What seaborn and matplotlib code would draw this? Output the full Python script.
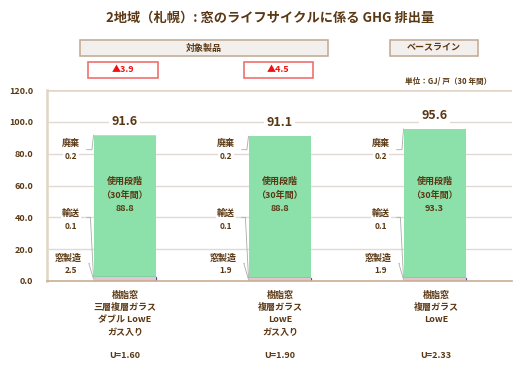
import matplotlib
matplotlib.use("Agg")
import matplotlib.pyplot as plt
import seaborn as sns
import pandas as pd
import numpy as np
from matplotlib.patches import Rectangle

sns.set_theme(style="white")
plt.rcParams['font.family'] = ['Noto Sans CJK JP', 'DejaVu Sans']

# ---- data ----
categories = ["樹脂窓\n三層複層ガラス\nダブル LowE\nガス入り",
              "樹脂窓\n複層ガラス\nLowE\nガス入り",
              "樹脂窓\n複層ガラス\nLowE"]
u_values = ["U=1.60", "U=1.90", "U=2.33"]
manufacture = [2.5, 1.9, 1.9]     # 窓製造
transport = [0.1, 0.1, 0.1]       # 輸送
use_phase = [88.8, 88.8, 93.3]    # 使用段階
disposal = [0.2, 0.2, 0.2]        # 廃棄
totals = ["91.6", "91.1", "95.6"]
reductions = ["▲3.9", "▲4.5"]
yticks = [0, 20, 40, 60, 80, 100, 120]

BROWN = "#5a3814"
W, H = 525, 370
FW = "bold"

fig = plt.figure(figsize=(W / 100, H / 100), dpi=100)

def fx(x):
    return x / W

def fy(y):
    return 1 - y / H

ax = fig.add_axes([fx(47), fy(281), (512 - 47) / W, (281 - 90) / H])

m = np.array(manufacture)
t = np.array(transport)
u = np.array(use_phase)
d = np.array(disposal)
layers = [
    (m + t + u + d, "#a8e8c0", 0),
    (m + t + u, "#8ce0aa", 0),
    (m + t, "#55509c", 0.9),
    (m, "#e2c6cc", 0),
]
for vals, col, lw in layers:
    df = pd.DataFrame({"cat": categories, "val": vals})
    sns.barplot(data=df, x="cat", y="val", color=col, width=0.4,
                saturation=1, ax=ax, zorder=3, linewidth=lw, edgecolor=col)

ax.set_ylim(0, 120)
ax.set_xlim(-0.5, 2.5)
ax.set_yticks(yticks)
ax.set_yticklabels([f"{v:.1f}" for v in yticks], fontsize=6.5, color=BROWN, fontweight=FW)
ax.set_xticks(range(3))
ax.set_xticklabels([])
ax.set_xlabel("")
ax.set_ylabel("")
ax.tick_params(axis="both", length=0, pad=10)
for v in yticks[1:-1]:
    ax.axhline(v, color="#e2dad2", lw=1, zorder=1)
ax.axhline(120, color="#e2d4c4", lw=1.8, zorder=1)
for s in ["top", "right"]:
    ax.spines[s].set_visible(False)
ax.spines["left"].set_color("#e2d4c4")
ax.spines["left"].set_linewidth(1.8)
ax.spines["bottom"].set_color("#c8ae94")
ax.spines["bottom"].set_linewidth(1.2)
ax.spines["bottom"].set_zorder(6)

bbox_w = dict(facecolor="white", edgecolor="none", pad=1.0)
for i in range(3):
    top = m[i] + t[i] + u[i] + d[i]
    left = i - 0.2
    # total
    ax.text(i, top + 8.5, totals[i], ha="center", va="center", fontsize=9,
            color=BROWN, fontweight=FW,
            bbox=dict(facecolor="white", edgecolor="none", pad=2), zorder=5)
    # inside label
    ax.text(i, 54, f"使用段階\n（30年間）\n{use_phase[i]:.1f}", ha="center", va="center",
            fontsize=6.5, color=BROWN, linespacing=1.6, zorder=5, fontweight=FW)
    lx = i - 0.345
    # disposal
    ax.text(lx, 86.5, "廃棄", ha="center", va="center", fontsize=6.5, color=BROWN, zorder=5, bbox=bbox_w, fontweight=FW)
    ax.text(lx, 78.5, f"{disposal[i]:.1f}", ha="center", va="center", fontsize=6, color=BROWN, zorder=5, bbox=bbox_w, fontweight=FW)
    ax.plot([lx + 0.1, left - 0.01, left], [82.5, 82.5, top], color="#aaaaaa", lw=0.6, zorder=4)
    # transport
    ax.text(lx, 42.5, "輸送", ha="center", va="center", fontsize=6.5, color=BROWN, zorder=5, bbox=bbox_w, fontweight=FW)
    ax.text(lx, 34.5, f"{transport[i]:.1f}", ha="center", va="center", fontsize=6, color=BROWN, zorder=5, bbox=bbox_w, fontweight=FW)
    ax.plot([lx + 0.1, left - 0.02, left], [40, 40, m[i] + t[i] / 2], color="#aaaaaa", lw=0.6, zorder=4)
    # manufacture
    ax.text(lx - 0.015, 14, "窓製造", ha="center", va="center", fontsize=6.5, color=BROWN, zorder=5, bbox=bbox_w, fontweight=FW)
    ax.text(lx, 6.5, f"{manufacture[i]:.1f}", ha="center", va="center", fontsize=6, color=BROWN, zorder=5, bbox=bbox_w, fontweight=FW)
    ax.plot([lx + 0.12, left - 0.03, left], [11, 11, m[i] / 2], color="#aaaaaa", lw=0.6, zorder=4)

# category labels under the axis
xs = [125, 280, 436]
for i, x in enumerate(xs):
    fig.text(fx(x), fy(291), categories[i], ha="center", va="top", fontsize=6.5,
             color=BROWN, linespacing=1.45, fontweight=FW)
    fig.text(fx(x), fy(355), u_values[i], ha="center", va="center", fontsize=6.5, color=BROWN, fontweight=FW)

# title
fig.text(fx(270), fy(18), "2地域（札幌）: 窓のライフサイクルに係る GHG 排出量", ha="center", va="center",
         fontsize=9.5, color=BROWN, fontweight="bold")

# header boxes
def box(x0, y0, x1, y1, fc, ec, lw):
    r = Rectangle((fx(x0), fy(y1)), fx(x1) - fx(x0), fy(y0) - fy(y1), transform=fig.transFigure,
                  facecolor=fc, edgecolor=ec, lw=lw)
    fig.add_artist(r)

box(80, 40, 328, 56, "#f2efec", "#c4ae98", 1.2)
fig.text(fx(204), fy(48), "対象製品", ha="center", va="center", fontsize=6.5, color=BROWN, fontweight="bold")
box(390, 40, 478, 56, "#f2efec", "#c4ae98", 1.2)
fig.text(fx(434), fy(48), "ベースライン", ha="center", va="center", fontsize=6.5, color=BROWN, fontweight="bold")

for (x0, x1), lab in zip([(88, 158), (244, 313)], reductions):
    box(x0, 62, x1, 78, "white", "#f07070", 1.2)
    fig.text(fx((x0 + x1) / 2), fy(70), lab, ha="center", va="center", fontsize=6.5,
             color="#ee1111", fontweight="bold")

fig.text(fx(448), fy(81), "単位：GJ/ 戸（30 年間）", ha="center", va="center", fontsize=5.5,
         color=BROWN, fontweight=FW)

fig.savefig("out.png", dpi=100, facecolor="white")
